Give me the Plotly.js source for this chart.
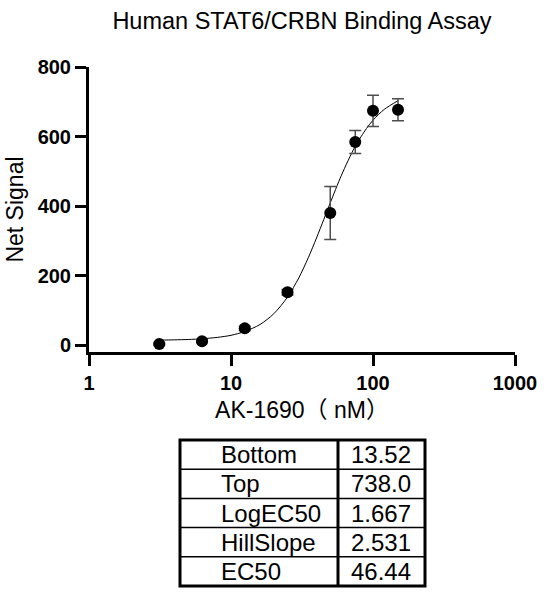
<!DOCTYPE html>
<html>
<head>
<meta charset="utf-8">
<script src="https://cdn.plot.ly/plotly-3.0.1.min.js"></script>
<style>
html,body{margin:0;padding:0;background:#fff;}
#chart{width:548px;height:598px;}
</style>
</head>
<body>
<div id="chart"></div>
<script>
// ---- data ----
const concentrations = [3.125, 6.25, 12.5, 25, 50, 75, 100, 150];
const netSignal      = [3, 11, 48, 152, 380, 584, 674, 677];
const signalError    = [3, 4, 6, 8, 76, 33, 45, 32];

const curveX = [3.125, 4, 5, 6.25, 8, 10, 12.5, 16, 20, 25, 30, 35, 40, 45, 50, 60, 75, 90, 100, 120, 150];
const curveY = [14, 15, 16, 18, 22, 28, 39, 59, 90, 138, 193, 251, 308, 361, 409, 489, 572, 623, 647, 678, 703];

const xTickVals  = [1, 10, 100, 1000];
const xTickText  = ['1', '10', '100', '1000'];
const yTickVals  = [0, 200, 400, 600, 800];

const tableLabels = ['Bottom', 'Top', 'LogEC50', 'HillSlope', 'EC50'];
const tableValues = ['13.52', '738.0', '1.667', '2.531', '46.44'];

const chartTitle = 'Human STAT6/CRBN Binding Assay';
const xTitle = 'AK-1690\uFF08 nM\uFF09';
const yTitle = 'Net Signal';

// ---- figure ----
const W = 548, H = 598;
const font = 'Arial, "Liberation Sans", "Noto Sans CJK SC", sans-serif';

const traces = [
  {
    x: curveX, y: curveY, type: 'scatter', mode: 'lines',
    line: {color: '#000', width: 1, shape: 'spline', smoothing: 0.8},
    hoverinfo: 'skip', showlegend: false
  },
  {
    x: concentrations, y: netSignal, type: 'scatter', mode: 'markers',
    marker: {color: '#000', size: 12},
    error_y: {type: 'data', array: signalError, visible: true, color: '#4d4d4d', thickness: 1.5, width: 6},
    showlegend: false, cliponaxis: false
  }
];

// table drawn as shapes + annotations in pixel-derived paper coords
const ml = 89, mr = 33, mt = 67, mb = 246;
const pw = W - ml - mr, ph = H - mt - mb;
const px = v => (v - ml) / pw;
const py = v => (H - mb - v) / ph;

const tLeft = 180, tSep = 338, tRight = 425, tTop = 440, tBottom = 586;
const rowH = (tBottom - tTop) / tableLabels.length;

const shapes = [];
const annotations = [];
shapes.push({type: 'rect', xref: 'paper', yref: 'paper', x0: px(tLeft), x1: px(tRight), y0: py(tTop), y1: py(tBottom),
  line: {color: '#000', width: 3}, fillcolor: 'rgba(0,0,0,0)'});
shapes.push({type: 'line', xref: 'paper', yref: 'paper', x0: px(tSep), x1: px(tSep), y0: py(tTop), y1: py(tBottom),
  line: {color: '#000', width: 3}});
tableLabels.forEach((lab, i) => {
  const yc = tTop + rowH * (i + 0.5);
  if (i > 0) {
    const yl = tTop + rowH * i;
    shapes.push({type: 'line', xref: 'paper', yref: 'paper', x0: px(tLeft), x1: px(tRight), y0: py(yl), y1: py(yl),
      line: {color: '#000', width: 1.5}});
  }
  annotations.push({xref: 'paper', yref: 'paper', x: px(219), y: py(yc), xanchor: 'left', yanchor: 'middle',
    text: lab, showarrow: false, font: {family: font, size: 24, color: '#000'}});
  annotations.push({xref: 'paper', yref: 'paper', x: px(381), y: py(yc), xanchor: 'center', yanchor: 'middle',
    text: tableValues[i], showarrow: false, font: {family: font, size: 24, color: '#000'}});
});

const layout = {
  width: W, height: H,
  margin: {l: ml, r: mr, t: mt, b: mb, pad: 0},
  paper_bgcolor: '#fff', plot_bgcolor: '#fff',
  font: {family: font, color: '#000'},
  title: {text: chartTitle, font: {family: font, size: 23.5, color: '#000'},
    x: 0.5, xref: 'paper', xanchor: 'center', y: 1 - 21 / H, yref: 'container', yanchor: 'middle'},
  xaxis: {
    type: 'log', range: [0, 3], tickvals: xTickVals, ticktext: xTickText,
    showline: true, linecolor: '#000', linewidth: 3, mirror: false,
    ticks: 'outside', ticklen: 11, tickwidth: 3, tickcolor: '#000',
    showgrid: false, zeroline: false,
    tickfont: {family: font, size: 20, weight: 'bold', color: '#000'},
    title: {text: xTitle, font: {family: '"Liberation Sans", Arial, "Noto Sans CJK TC", sans-serif', size: 23, color: '#000'}, standoff: 9},
    automargin: false, fixedrange: true
  },
  yaxis: {
    range: [-20, 800], tickvals: yTickVals,
    showline: true, linecolor: '#000', linewidth: 3,
    ticks: 'outside', ticklen: 11, tickwidth: 3, tickcolor: '#000',
    showgrid: false, zeroline: false,
    tickfont: {family: font, size: 20, weight: 'bold', color: '#000'},
    title: {text: yTitle, font: {family: font, size: 23, color: '#000'}, standoff: 8},
    automargin: false, fixedrange: true
  },
  shapes: shapes,
  annotations: annotations,
  showlegend: false
};

Plotly.newPlot('chart', traces, layout, {displayModeBar: false, staticPlot: true});
</script>
</body>
</html>
